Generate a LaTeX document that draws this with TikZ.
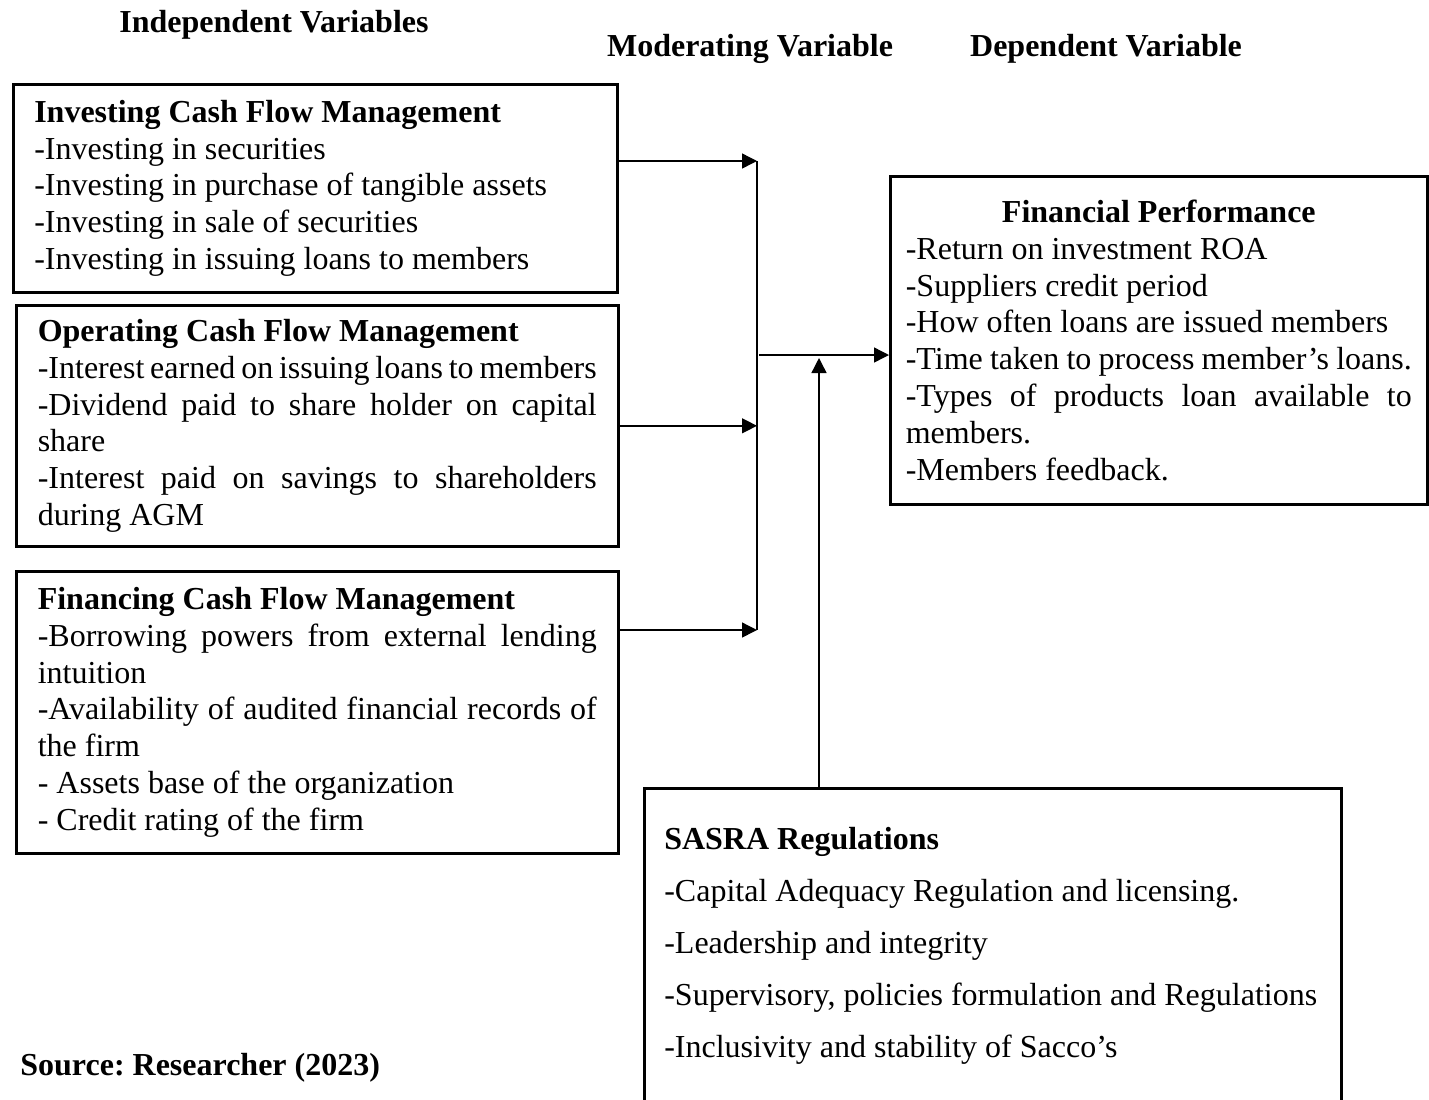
\documentclass[tikz,border=0pt]{standalone}
\usepackage{fontspec}
\setmainfont{Liberation Serif}
\usetikzlibrary{arrows.meta,positioning}
\frenchspacing

\tikzset{
  varbox/.style={draw, line width=1.3pt, anchor=north west, inner ysep=0pt,
    font=\fontsize{16}{18.4}\selectfont, align=justify},
  heading/.style={font=\fontsize{16}{18.4}\selectfont\bfseries},
  arr/.style={-{Triangle[length=7.5pt,width=7.5pt]}, line width=0.7pt},
  link/.style={line width=0.7pt}
}

\begin{document}
\begin{tikzpicture}[x=0.5pt,y=-0.5pt]
    \useasboundingbox (0,0) rectangle (1429,1099);
    % Column headings
    \node[heading] (indep) at (274,25) {Independent Variables};
    \node[heading] (moder) at (750,49) {Moderating Variable};
    \node[heading] (dep) at (1106,49) {Dependent Variable};
    % Independent variables
    \node[varbox, text width=281pt, inner xsep=10.5pt, minimum width=302pt, minimum height=104pt] (inv) at (12,83)
      {\textbf{Investing Cash Flow Management}\\
       -Investing in securities\\
       -Investing in purchase of tangible assets\\
       -Investing in sale of securities\\
       -Investing in issuing loans to members};
    \node[varbox, text width=279.5pt, inner xsep=10.75pt, minimum width=301pt, minimum height=120.5pt] (ope) at (15,304)
      {\textbf{Operating Cash Flow Management}\\
       -Interest earned on issuing loans to members\\
       -Dividend paid to share holder on capital\linebreak share\\
       -Interest paid on savings to shareholders\linebreak during AGM};
    \node[varbox, text width=279.5pt, inner xsep=10.75pt, minimum width=301pt, minimum height=141pt] (fin) at (15,570)
      {\textbf{Financing Cash Flow Management}\\
       -Borrowing powers from external lending\linebreak intuition\\
       -Availability of audited financial records of\linebreak the firm\\
       - Assets base of the organization\\
       - Credit rating of the firm};
    % Dependent variable
    \node[varbox, text width=253pt, inner xsep=7.75pt, minimum width=268.5pt, minimum height=164pt] (perf) at (889,175)
      {\makebox[\linewidth]{\textbf{Financial Performance}}\\
       -Return on investment ROA\\
       -Suppliers credit period\\
       -How often loans are issued members\\
       -Time taken to process member’s loans.\\
       -Types of products loan available to\linebreak members.\\
       -Members feedback.};
    % Moderating variable
    \node[varbox, font=\fontsize{16}{26}\selectfont, text width=328.5pt, inner xsep=10pt, minimum width=348.5pt, minimum height=158pt] (sasra) at (643,787)
      {\textbf{SASRA Regulations}\\
       -Capital Adequacy Regulation and licensing.\\
       -Leadership and integrity\\
       -Supervisory, policies formulation and Regulations\\
       -Inclusivity and stability of Sacco’s};
    % Connectors
    \coordinate (jtop) at (757,161);
    \coordinate (jbot) at (757,630);
    \coordinate (jmid) at (759,355);
    \coordinate (mtip) at (819,358);
    \draw[arr] (inv.east |- jtop) -- (jtop);
    \draw[arr] (ope.east) -- (ope.east -| jtop);
    \draw[arr] (fin.east |- jbot) -- (jbot);
    \draw[link] (jtop) -- (jbot);
    \draw[arr] (jmid) -- (perf.west |- jmid);
    \draw[arr] (sasra.north -| mtip) -- (mtip);
    % Source
    \node[heading, anchor=west, inner sep=0pt] (src) at (20,1068) {Source: Researcher (2023)};
\end{tikzpicture}
\end{document}
